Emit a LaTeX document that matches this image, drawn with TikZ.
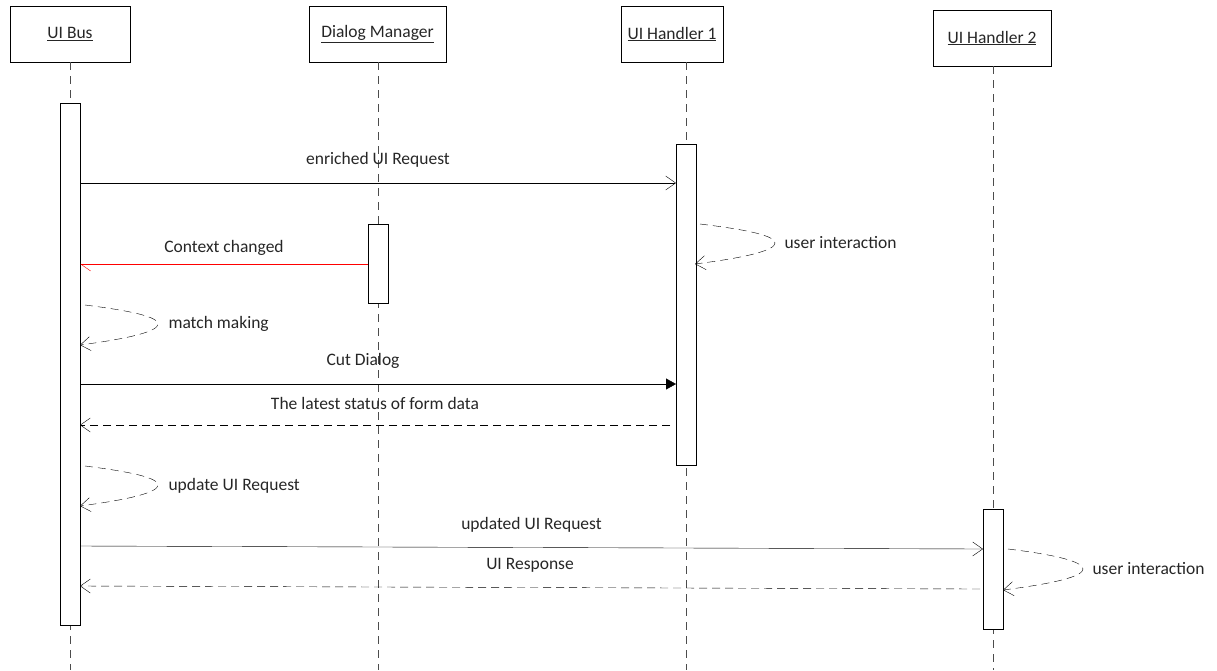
\documentclass[tikz,border=0pt]{standalone}
\usepackage{fontspec}
\setmainfont{Carlito}
\usetikzlibrary{arrows.meta}

\begin{document}
\begin{tikzpicture}
  [x=1pt,y=-1pt,every node/.style={font=\fontsize{17.5}{20}\selectfont,text=black!85},
   head/.style={draw,minimum height=56pt,inner sep=0pt},
   act/.style={draw,fill=white,minimum width=20pt,inner sep=0pt},
   life/.style={dash pattern=on 8pt off 6pt,black!70},
   msg/.style={-{Straight Barb[length=10pt,width=14pt]}},
   ret/.style={msg,dash pattern=on 8pt off 5pt}]
  \useasboundingbox (0,0) rectangle (1217,670);

  % lifelines
  \node[head,minimum width=120pt] (bus) at (70,34) {\underline{UI Bus}};
  \node[head,minimum width=137pt] (dm) at (377.5,34) {\underline{Dialog Manager}};
  \node[head,minimum width=102pt] (uh1) at (672,34) {\underline{UI Handler 1}};
  \node[head,minimum width=118pt] (uh2) at (992,38) {\underline{UI Handler 2}};
  \foreach \n/\x in {bus/70,dm/378,uh1/686,uh2/993}
    \draw[life] (\x,0 |- \n.south) -- (\x,670);

  % activations
  \node[act,minimum height=522pt] (abus) at (70,364) {};
  \node[act,minimum height=79pt] (adm) at (378,263.5) {};
  \node[act,minimum height=321pt] (auh1) at (686,304.5) {};
  \node[act,minimum height=120pt] (auh2) at (993,569) {};

  % message ends
  \coordinate (req1a) at (80,183);   \coordinate (req1b) at (676,183);
  \coordinate (ctxa) at (368,264);   \coordinate (ctxb) at (80,264);
  \coordinate (ui1a) at (700,224);   \coordinate (ui1b) at (695,264);
  \coordinate (mma) at (85,305);     \coordinate (mmb) at (80,345);
  \coordinate (cuta) at (80,384);    \coordinate (cutb) at (676,384);
  \coordinate (stata) at (670,425);  \coordinate (statb) at (80,425);
  \coordinate (upda) at (85,466);    \coordinate (updb) at (80,506);
  \coordinate (req2a) at (80,546);   \coordinate (req2b) at (983,549);
  \coordinate (resa) at (980,589);   \coordinate (resb) at (80,586);
  \coordinate (ui2a) at (1008,549);  \coordinate (ui2b) at (1003,590);

  % messages
  \draw[msg] (req1a) -- node[above=12pt] {enriched UI Request} (req1b);
  \draw[red,-{Straight Barb[length=10pt,width=14pt,harpoon]}] (ctxa) -- node[above=5pt] {Context changed} (ctxb);
  \draw[ret] (ui1a) .. controls (750,230) and (775,236) .. (775,243)
    .. controls (775,250) and (750,257) .. (ui1b);
  \node[anchor=west] (lui1) at (781,243) {user interaction};
  \draw[ret] (mma) .. controls (133,311) and (158,317) .. (158,324)
    .. controls (158,331) and (133,338) .. (mmb);
  \node[anchor=west] (lmm) at (165,324) {match making};
  \draw[-{Triangle[length=10pt,width=11pt]}] (cuta) -- node[above=12pt,xshift=-15pt] {Cut Dialog} (cutb);
  \draw[ret] (stata) -- node[above=12pt] {The latest status of form data} (statb);
  \draw[ret] (upda) .. controls (133,472) and (158,478) .. (158,485)
    .. controls (158,492) and (133,499) .. (updb);
  \node[anchor=west] (lupd) at (165,486) {update UI Request};
  \draw[msg] (req2a) -- node[above=12pt] {updated UI Request} (req2b);
  \draw[ret] (resa) -- node[above=12pt] {UI Response} (resb);
  \draw[ret] (ui2a) .. controls (1058,555) and (1083,562) .. (1083,569)
    .. controls (1083,576) and (1058,583) .. (ui2b);
  \node[anchor=west] (lui2) at (1089,569) {user interaction};
\end{tikzpicture}
\end{document}
